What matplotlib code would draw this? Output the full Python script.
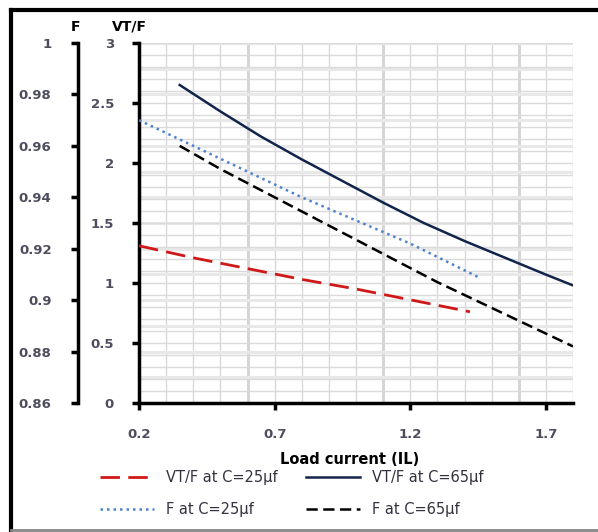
import numpy as np
import matplotlib
matplotlib.use("Agg")
import matplotlib.pyplot as plt
from matplotlib.lines import Line2D
from matplotlib.ticker import FormatStrFormatter

# Load current (IL) and values
il_vt25 = [0.2, 0.4, 0.6, 0.8, 1.0, 1.2, 1.42]
vt_25 = [1.31, 1.21, 1.12, 1.03, 0.95, 0.86, 0.76]

il_vt65 = [0.35, 0.5, 0.65, 0.8, 0.95, 1.1, 1.25, 1.4, 1.55, 1.7, 1.8]
vt_65 = [2.65, 2.43, 2.22, 2.03, 1.85, 1.67, 1.50, 1.35, 1.21, 1.07, 0.98]

il_f25 = [0.2, 0.4, 0.6, 0.8, 1.0, 1.2, 1.45]
f_25 = [0.970, 0.960, 0.950, 0.940, 0.931, 0.922, 0.909]

il_f65 = [0.35, 0.5, 0.7, 0.9, 1.1, 1.3, 1.5, 1.7, 1.8]
f_65 = [0.960, 0.951, 0.940, 0.929, 0.918, 0.907, 0.897, 0.887, 0.882]

x_ticks = [0.2, 0.7, 1.2, 1.7]
vt_ticks = [0, 0.5, 1, 1.5, 2, 2.5, 3]
f_ticks = [0.86, 0.88, 0.9, 0.92, 0.94, 0.96, 0.98, 1.0]

W, H = 598, 532
fig = plt.figure(figsize=(W / 100, H / 100), dpi=100)
fig.patch.set_facecolor("white")

ax = fig.add_axes([139 / W, 1 - 403 / H, 434 / W, 360 / H])
ax.set_xlim(0.2, 1.8)
ax.set_ylim(0, 3)

# grid
for x in np.arange(0.2, 1.801, 0.1):
    ax.axvline(x, color="#d8d8d8", lw=1.0, zorder=0)
for x in [0.6, 1.1, 1.6]:
    ax.axvline(x, color="#d6d6d6", lw=2.2, zorder=0)
for f in np.arange(0.86, 1.0001, 0.01):
    ax.axhline((f - 0.86) / 0.14 * 3, color="#e8e8e8", lw=2.2, zorder=0)
for v in np.arange(0.1, 3.001, 0.1):
    ax.axhline(v, color="#dadada", lw=1.0, zorder=0)

lab_col = "#4d4d5e"
tick_fs = 9.5

ax.set_xticks(x_ticks)
ax.set_yticks(vt_ticks)
ax.xaxis.set_major_formatter(FormatStrFormatter("%g"))
ax.yaxis.set_major_formatter(FormatStrFormatter("%g"))
ax.tick_params(axis="x", direction="out", length=5, width=2.5, pad=13,
               labelsize=tick_fs, labelcolor=lab_col)
ax.tick_params(axis="y", direction="out", length=5, width=2.5, pad=13,
               labelsize=tick_fs, labelcolor=lab_col)
for s in ["top", "right"]:
    ax.spines[s].set_visible(False)
for s in ["left", "bottom"]:
    ax.spines[s].set_linewidth(2.5)
    ax.spines[s].set_color("black")

l1, = ax.plot(il_vt25, vt_25, color="#d01818", lw=2.0, dashes=(7, 3), zorder=3)
l2, = ax.plot(il_vt65, vt_65, color="#12244c", lw=1.8, zorder=3)

ax2 = ax.twinx()
ax2.set_ylim(0.86, 1.0)
ax2.set_yticks(f_ticks)
ax2.yaxis.set_major_formatter(FormatStrFormatter("%g"))
ax2.yaxis.tick_left()
ax2.spines["left"].set_position(("axes", -61 / 434))
ax2.spines["left"].set_linewidth(2.5)
for s in ["top", "right", "bottom"]:
    ax2.spines[s].set_visible(False)
ax2.tick_params(axis="y", direction="out", length=5, width=2.5, pad=14,
                labelsize=tick_fs, labelcolor=lab_col)

l3, = ax2.plot(il_f25, f_25, color="#4f82cc", lw=1.8, dashes=(1, 1.6), zorder=3)
l4, = ax2.plot(il_f65, f_65, color="black", lw=1.8, dashes=(4.5, 2.2), zorder=3)

for lbl in ax.get_xticklabels() + ax.get_yticklabels() + ax2.get_yticklabels():
    lbl.set_fontweight("bold")

fig.text(76 / W, 1 - 27 / H, "F", fontsize=10, fontweight="bold", ha="center", va="center")
fig.text(129 / W, 1 - 27 / H, "VT/F", fontsize=10, fontweight="bold", ha="center", va="center")
fig.text(350 / W, 1 - 459 / H, "Load current (IL)", fontsize=10.5, fontweight="bold",
         ha="center", va="center")

leg = fig.legend([l1, l3, l2, l4],
                 ["VT/F at C=25µf", "F at C=25µf", "VT/F at C=65µf", "F at C=65µf"],
                 ncol=2, loc="upper left", bbox_to_anchor=(100 / W, 1 - 470 / H),
                 frameon=False, fontsize=10.5, handlelength=3.7, handletextpad=0.8,
                 columnspacing=2.0, labelspacing=1.15, borderpad=0, borderaxespad=0)
for t in leg.get_texts():
    t.set_color("#333340")

# outer frame
fig.add_artist(Line2D([11 / W, 11 / W], [1 - 530 / H, 1 - 10 / H], color="black", lw=3,
                      transform=fig.transFigure))
fig.add_artist(Line2D([11 / W, 1], [1 - 10 / H, 1 - 10 / H], color="black", lw=3,
                      transform=fig.transFigure))
fig.add_artist(Line2D([11 / W, 1], [1 - 530 / H, 1 - 530 / H], color="#888888", lw=2,
                      transform=fig.transFigure))

fig.savefig("out.png", dpi=100)
